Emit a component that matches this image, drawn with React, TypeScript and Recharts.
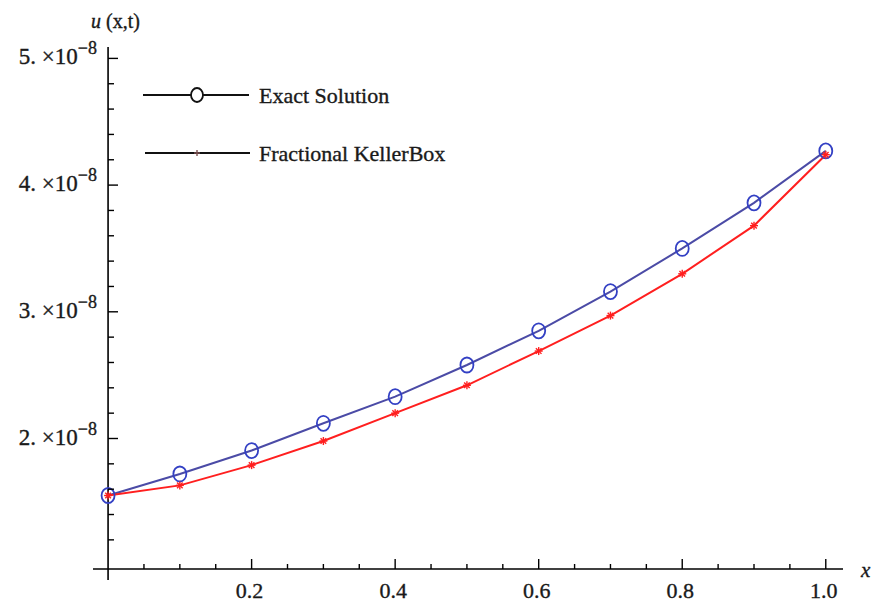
import React from 'react';
import { LineChart, Line, XAxis, YAxis, ReferenceLine, Legend } from 'recharts';

const xPoints = [0, 0.1, 0.2, 0.3, 0.4, 0.5, 0.6, 0.7, 0.8, 0.9, 1.0];
const exactSolution = [1.55e-8, 1.72e-8, 1.905e-8, 2.12e-8, 2.33e-8, 2.58e-8, 2.85e-8, 3.16e-8, 3.5e-8, 3.86e-8, 4.27e-8];
const kellerBox = [1.55e-8, 1.63e-8, 1.79e-8, 1.98e-8, 2.2e-8, 2.42e-8, 2.69e-8, 2.97e-8, 3.3e-8, 3.68e-8, 4.24e-8];
const seriesNames = ['Exact Solution', 'Fractional KellerBox'];

const xTicks = [0, 0.05, 0.1, 0.15, 0.2, 0.25, 0.3, 0.35, 0.4, 0.45, 0.5, 0.55, 0.6, 0.65, 0.7, 0.75, 0.8, 0.85, 0.9, 0.95, 1.0];
const xLabelTicks = [0.2, 0.4, 0.6, 0.8, 1.0];
const yTicks = [1.2e-8, 1.4e-8, 1.6e-8, 1.8e-8, 2e-8, 2.2e-8, 2.4e-8, 2.6e-8, 2.8e-8, 3e-8, 3.2e-8, 3.4e-8, 3.6e-8, 3.8e-8, 4e-8, 4.2e-8, 4.4e-8, 4.6e-8, 4.8e-8, 5e-8];
const yLabelTicks = [2e-8, 3e-8, 4e-8, 5e-8];

const data = xPoints.map((x, i) => ({ x, exact: exactSolution[i], keller: kellerBox[i] }));

const FONT = '"Liberation Serif", "Times New Roman", serif';
const TEXT = '#1a1a1a';
const BLUE_LINE = '#4b4ba6';
const BLUE_MARK = '#3340c4';
const RED = '#ff1f1f';
// distance between the plot's left edge and the x = 0 axis
const AXIS_SHIFT = 15;
// the reference text is heavy and blurred, thicken it a little
const textStyle = { fontFamily: FONT, fill: TEXT, stroke: TEXT, strokeWidth: 0.35 };

const XTick = (props: any) => {
  const { x, y, payload } = props;
  const v = payload.value;
  if (Math.abs(v) < 1e-9) {
    // y axis pokes below the x axis
    return <line x1={x} x2={x} y1={y} y2={y + 11} stroke="#000" strokeWidth={1.6} />;
  }
  const major = xLabelTicks.some((t) => Math.abs(t - v) < 1e-9);
  return (
    <g>
      <line x1={x} x2={x} y1={y} y2={y - (major ? 10 : 5)} stroke="#000" strokeWidth={1.4} />
      {major && (
        <text x={x - 2} y={y + 29} textAnchor="middle" fontSize={22} style={textStyle}>
          {v.toFixed(1)}
        </text>
      )}
    </g>
  );
};

const YTick = (props: any) => {
  const { x, y, payload } = props;
  const v = payload.value;
  const ax = x + AXIS_SHIFT;
  const major = yLabelTicks.some((t) => Math.abs(t - v) < 1e-12);
  return (
    <g>
      <line x1={ax} x2={ax + (major ? 10 : 6)} y1={y} y2={y} stroke="#000" strokeWidth={1.4} />
      {major && (
        <text x={x + 4} y={y + 6} textAnchor="end" fontSize={23} style={textStyle}>
          {`${Math.round(v * 1e8)}. \u00d710`}
          <tspan fontSize={18} dy={-10}>{'\u22128'}</tspan>
        </text>
      )}
    </g>
  );
};

const CircleDot = (props: any) => {
  const { cx, cy, index } = props;
  return <ellipse key={`c-${index}`} cx={cx} cy={cy} rx={6.5} ry={7.5} fill="none" stroke={BLUE_MARK} strokeWidth={1.8} />;
};

const StarDot = (props: any) => {
  const { cx, cy, index } = props;
  const r = 4;
  return (
    <g key={`s-${index}`} stroke={RED} strokeWidth={1.4}>
      <line x1={cx - r} x2={cx + r} y1={cy} y2={cy} />
      <line x1={cx} x2={cx} y1={cy - r} y2={cy + r} />
      <line x1={cx - r * 0.7} x2={cx + r * 0.7} y1={cy - r * 0.7} y2={cy + r * 0.7} />
      <line x1={cx - r * 0.7} x2={cx + r * 0.7} y1={cy + r * 0.7} y2={cy - r * 0.7} />
    </g>
  );
};

const LegendBox = () => (
  <svg width={340} height={100}>
    <line x1={13} x2={119} y1={25} y2={25} stroke="#111" strokeWidth={2} />
    <ellipse cx={67} cy={25} rx={6} ry={7} fill="#fff" stroke="#111" strokeWidth={1.8} />
    <text x={129} y={33} fontSize={22} style={textStyle}>{seriesNames[0]}</text>
    <line x1={15} x2={120} y1={83} y2={83} stroke="#111" strokeWidth={2} />
    <g stroke="#7a5050" strokeWidth={1.4}>
      <line x1={64} x2={70} y1={83} y2={83} />
      <line x1={67} x2={67} y1={80} y2={86} />
    </g>
    <text x={129} y={91} fontSize={22} style={textStyle}>{seriesNames[1]}</text>
  </svg>
);

export default function App() {
  return (
    <div style={{ position: 'absolute', left: 0, top: 0, width: 873, height: 608, background: '#fff' }}>
      <LineChart width={873} height={608} data={data} margin={{ top: 47, right: 30, bottom: 0, left: 0 }}>
        <XAxis
          dataKey="x"
          type="number"
          domain={[-0.021, 1.024]}
          ticks={xTicks}
          interval={0}
          height={39}
          tickSize={0}
          tickMargin={0}
          tickLine={false}
          axisLine={{ stroke: '#000', strokeWidth: 1.6 }}
          tick={<XTick />}
          label={{
            content: (p: any) => {
              const vb = p.viewBox;
              return (
                <text x={vb.x + vb.width + 18} y={vb.y + 8} fontStyle="italic" fontSize={21} style={textStyle}>
                  x
                </text>
              );
            },
          }}
        />
        <YAxis
          type="number"
          domain={[0.97e-8, 5.09e-8]}
          ticks={yTicks}
          interval={0}
          width={93}
          tickSize={0}
          tickMargin={0}
          tickLine={false}
          axisLine={false}
          allowDataOverflow
          tick={<YTick />}
          label={{
            content: (p: any) => {
              const vb = p.viewBox;
              return (
                <text x={vb.x + vb.width - 2} y={vb.y - 19} fontSize={20} style={textStyle}>
                  <tspan fontStyle="italic">u</tspan> (x,t)
                </text>
              );
            },
          }}
        />
        <ReferenceLine x={0} stroke="#000" strokeWidth={1.6} />
        <Legend
          layout="vertical"
          align="center"
          verticalAlign="middle"
          content={<LegendBox />}
          wrapperStyle={{ left: 130, top: 70, width: 340, height: 100 }}
        />
        <Line
          dataKey="exact"
          name={seriesNames[0]}
          stroke={BLUE_LINE}
          strokeWidth={2}
          dot={CircleDot}
          isAnimationActive={false}
        />
        <Line
          dataKey="keller"
          name={seriesNames[1]}
          stroke={RED}
          strokeWidth={2}
          dot={StarDot}
          isAnimationActive={false}
        />
      </LineChart>
    </div>
  );
}
